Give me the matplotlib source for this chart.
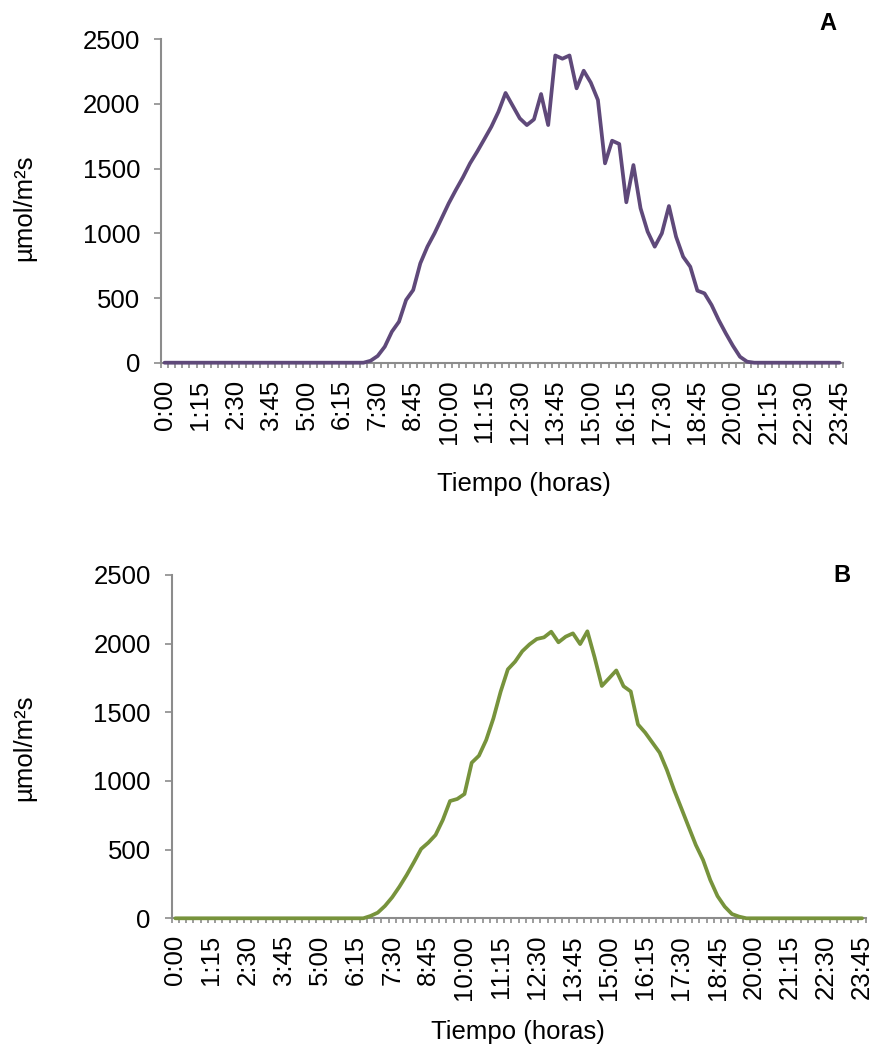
import numpy as np
import matplotlib
matplotlib.use("Agg")
import matplotlib.pyplot as plt

plt.rcParams['font.family'] = ['Liberation Sans', 'DejaVu Sans']

# 15-minute intervals
times = [f"{h}:{m:02d}" for h in range(24) for m in (0, 15, 30, 45)]

# Panel A values (µmol/m²s)
values_a = [0] * 28 + [
    0, 15, 52, 124, 240, 317, 485, 562, 768, 897,
    1000, 1116, 1232, 1335, 1433, 1541, 1631, 1727, 1824, 1940,
    2085, 1987, 1889, 1837, 1881, 2077, 1837, 2375, 2350, 2375,
    2121, 2257, 2165, 2031, 1541, 1716, 1691, 1240, 1528, 1194,
    1013, 897, 1000, 1211, 974, 819, 742, 557, 536, 446,
    330, 227, 131, 46, 8,
] + [0] * 13

# Panel B values (µmol/m²s)
values_b = [0] * 27 + [
    17, 41, 90, 153, 230, 315, 408, 505, 551, 607,
    716, 854, 869, 905, 1133, 1184, 1298, 1456, 1650, 1813,
    1869, 1945, 1995, 2034, 2046, 2087, 2010, 2051, 2075, 1997,
    2090, 1900, 1692, 1748, 1805, 1690, 1652, 1412, 1352, 1279,
    1206, 1080, 934, 801, 667, 534, 425, 279, 162, 85,
    31, 12,
] + [0] * 17

yticks = [0, 500, 1000, 1500, 2000, 2500]
label_every = 5

color_a = '#5F497A'
color_b = '#77933C'
axis_gray = '#8C8C8C'

W, H = 874, 1047
fig = plt.figure(figsize=(W / 100, H / 100), dpi=100)


def make_panel(rect, values, color, letter, letter_xy, ylabel_xy, xlabel_xy):
    ax = fig.add_axes(rect)
    n = len(values)
    x = np.arange(n)
    ax.plot(x, values, color=color, lw=2.7, solid_joinstyle='round',
            solid_capstyle='round', clip_on=False, zorder=3)
    ax.set_xlim(-0.5, n - 0.5)
    ax.set_ylim(0, 2500)
    for s in ('top', 'right'):
        ax.spines[s].set_visible(False)
    for s in ('left', 'bottom'):
        ax.spines[s].set_color(axis_gray)
        ax.spines[s].set_linewidth(1.5)
    ax.set_yticks(yticks)
    ax.set_yticklabels([str(v) for v in yticks], fontsize=18.5)
    ax.tick_params(axis='y', length=5, width=1.2, color=axis_gray, pad=10)
    # tick marks at category boundaries
    ax.set_xticks(np.arange(-0.5, n, 1.0))
    ax.set_xticklabels([])
    ax.tick_params(axis='x', which='major', length=3.5, width=1.2, color=axis_gray)
    pos = np.arange(0, n, label_every)
    ax.set_xticks(pos, minor=True)
    ax.set_xticklabels([times[i] for i in pos], minor=True, rotation=90,
                       fontsize=18.5, va='top', ha='center')
    ax.tick_params(axis='x', which='minor', length=0, pad=12)
    fig.text(letter_xy[0] / W, 1 - letter_xy[1] / H, letter, fontsize=17,
             fontweight='bold', ha='center', va='center')
    fig.text(ylabel_xy[0] / W, 1 - ylabel_xy[1] / H, 'µmol/m²s', fontsize=18.5,
             rotation=90, ha='center', va='center')
    fig.text(xlabel_xy[0] / W, 1 - xlabel_xy[1] / H, 'Tiempo (horas)',
             fontsize=18.5, ha='center', va='center')
    return ax


# panel A: x 161..843, y0 at 362.7, y2500 at 39.3
make_panel([161 / W, 1 - 362.7 / H, 682 / W, 323.4 / H], values_a, color_a,
           'A', (828, 23), (24, 208), (524, 484))
# panel B: x 171.7..865.7, y0 at 918.3, y2500 at 575
make_panel([171.7 / W, 1 - 918.3 / H, 694 / W, 343.3 / H], values_b, color_b,
           'B', (842, 575), (24, 748), (518, 1032))

fig.savefig('out.png', dpi=100)
